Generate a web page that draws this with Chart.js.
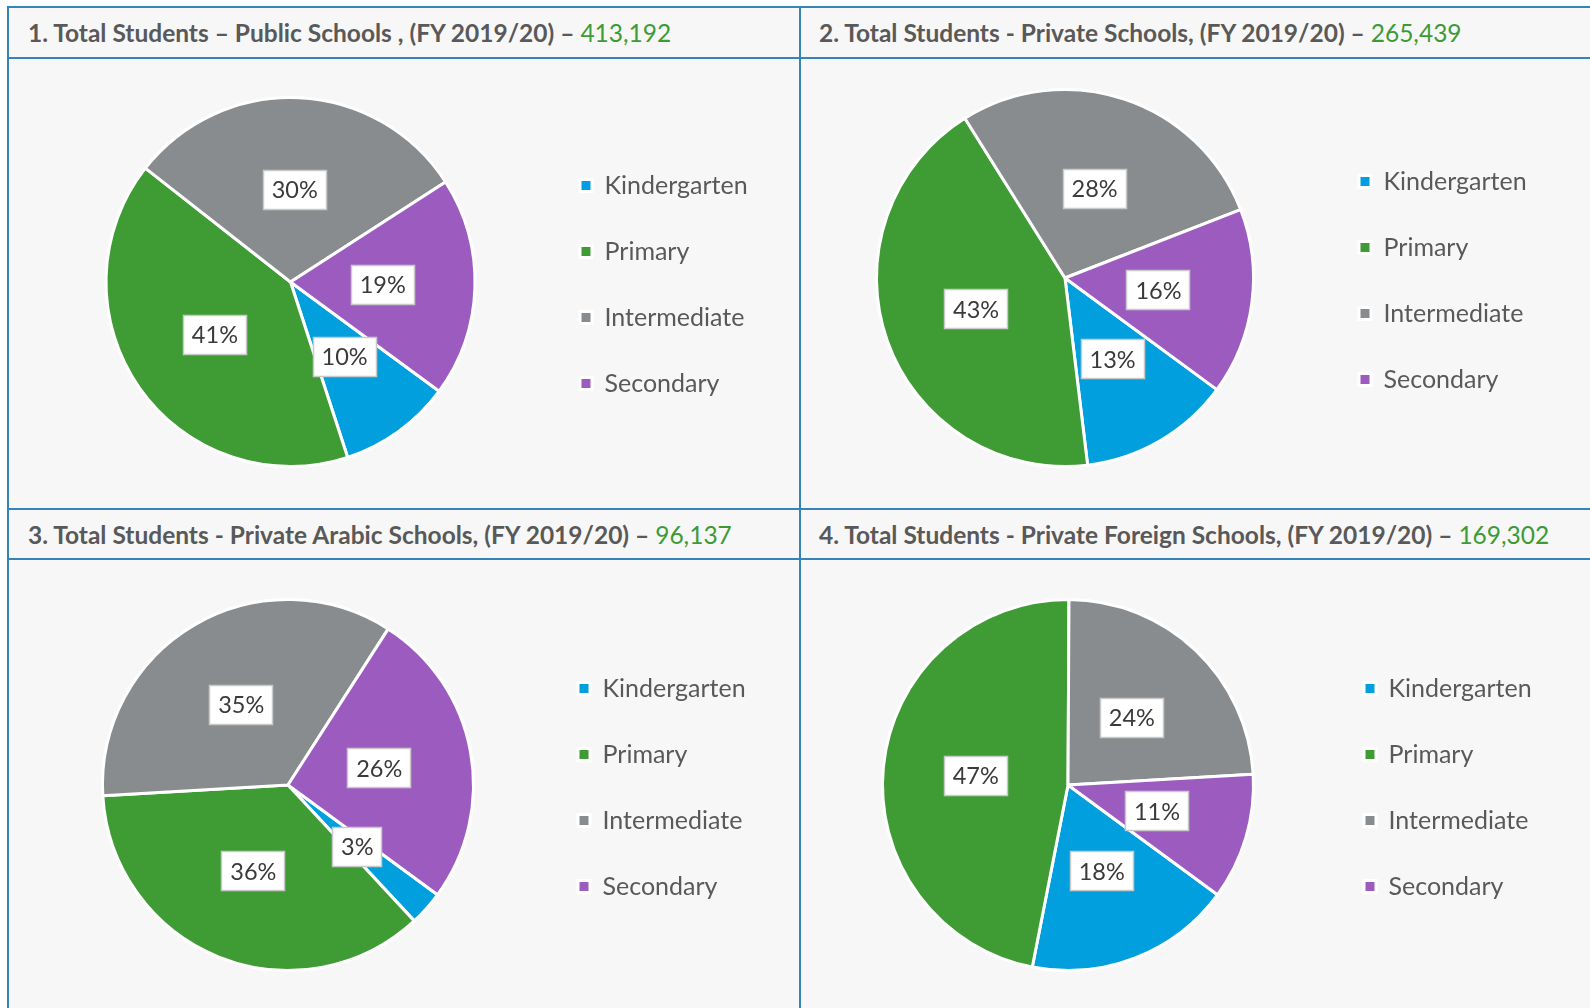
<!DOCTYPE html>
<html>
<head>
<meta charset="utf-8">
<script src="https://cdn.jsdelivr.net/npm/chart.js@4.4.1/dist/chart.umd.min.js"></script>
<style>
  html, body { margin: 0; padding: 0; background: #ffffff; }
  body { width: 1590px; height: 1008px; position: relative; overflow: hidden; font-family: Lato, "Open Sans", sans-serif; }
  .frame { position: absolute; left: 7px; top: 6px; width: 1583px; height: 1002px; background: #f7f7f7; }
  .hline { position: absolute; left: 7px; width: 1583px; height: 2px; background: #3583bb; }
  .vline { position: absolute; top: 6px; width: 2px; height: 1002px; background: #3583bb; }
  .head { position: absolute; height: 50px; line-height: 50px; font-weight: bold; font-size: 24.5px; color: #595959; white-space: nowrap; }
  .head .num { font-weight: normal; color: #3d9b35; }
  canvas { position: absolute; }
</style>
</head>
<body>
<div class="frame"></div>
<div class="hline" style="top:6px"></div>
<div class="hline" style="top:57px"></div>
<div class="hline" style="top:508px"></div>
<div class="hline" style="top:558px"></div>
<div class="vline" style="left:7px"></div>
<div class="vline" style="left:799px"></div>

<div class="head" id="head1" style="left:28px; top:8px"></div>
<div class="head" id="head2" style="left:819px; top:8px"></div>
<div class="head" id="head3" style="left:28px; top:510px"></div>
<div class="head" id="head4" style="left:819px; top:510px"></div>

<canvas id="pie1" width="790" height="449" style="left:9px; top:59px"></canvas>
<canvas id="pie2" width="789" height="449" style="left:801px; top:59px"></canvas>
<canvas id="pie3" width="790" height="448" style="left:9px; top:560px"></canvas>
<canvas id="pie4" width="789" height="448" style="left:801px; top:560px"></canvas>

<script>
// data
const levels = ["Kindergarten", "Primary", "Intermediate", "Secondary"];
const levelColors = ["#019fdd", "#3f9c35", "#898c8e", "#9c5cbf"];

const titles = [
  "1. Total Students \u2013 Public Schools , (FY 2019/20) \u2013 ",
  "2. Total Students - Private Schools, (FY 2019/20) \u2013 ",
  "3. Total Students - Private Arabic Schools, (FY 2019/20) \u2013 ",
  "4. Total Students - Private Foreign Schools, (FY 2019/20) \u2013 "
];
const totals = ["413,192", "265,439", "96,137", "169,302"];

// share of students by level, % (labels show them rounded)
const publicShare = [9.9, 40.6, 30.3, 19.2];
const privateShare = [13, 43, 28, 16];
const arabicShare = [3, 36, 35, 26];
const foreignShare = [18, 47, 24, 11];

// per panel: [padding left, padding top, legend left edge, padding bottom]
const pads = [
  [33, 37, 530, 40],
  [11, 29, 517, 40],
  [30, 38, 528, 36],
  [12, 38, 522, 36]
];

const legendFont = { family: 'Lato', size: 25 };
const legendPad = 41;
const legendBox = 12;

// width chart.js will give the legend box (padding + box + gap + text + 10)
function legendBoxWidth() {
  const c = document.createElement('canvas').getContext('2d');
  c.font = legendFont.size + 'px ' + legendFont.family;
  const tw = Math.max(...levels.map(l => c.measureText(l).width));
  return legendPad + legendBox + legendFont.size / 2 + tw + 10;
}

// white boxes with percentage in the middle of each slice
const boxLabels = {
  id: 'boxLabels',
  afterDatasetsDraw(chart) {
    const ctx = chart.ctx;
    const meta = chart.getDatasetMeta(0);
    const values = chart.data.datasets[0].data;
    ctx.save();
    ctx.font = '23.5px Lato';
    ctx.textAlign = 'center';
    ctx.textBaseline = 'middle';
    meta.data.forEach((arc, i) => {
      const p = arc.tooltipPosition();
      const text = Math.round(values[i]) + '%';
      const w = Math.round(ctx.measureText(text).width + 18);
      const h = 40;
      const x = Math.round(p.x - w / 2), y = Math.round(p.y - h / 2);
      ctx.fillStyle = '#ffffff';
      ctx.fillRect(x, y, w, h);
      ctx.strokeStyle = '#c9c9c9';
      ctx.lineWidth = 1.5;
      ctx.strokeRect(x + 0.5, y + 0.5, w - 1, h - 1);
      ctx.fillStyle = '#3a3a3a';
      ctx.fillText(text, p.x, p.y + 1);
    });
    ctx.restore();
  }
};

function makePie(id, shares, pad) {
  const canvas = document.getElementById(id);
  const lw = legendBoxWidth();
  const padRight = canvas.width - pad[2] - lw;
  return new Chart(canvas.getContext('2d'), {
    type: 'pie',
    data: {
      labels: levels,
      datasets: [{
        data: shares,
        backgroundColor: levelColors,
        borderColor: '#ffffff',
        borderWidth: 3
      }]
    },
    options: {
      responsive: false,
      animation: false,
      rotation: 126.3,
      layout: { padding: { left: pad[0], top: pad[1], right: padRight, bottom: pad[3] } },
      plugins: {
        tooltip: { enabled: false },
        legend: {
          position: 'right',
          align: 'center',
          title: { display: true, text: '', font: { size: 1 }, padding: { top: 0, bottom: 4 } },
          labels: {
            boxWidth: legendBox,
            boxHeight: legendBox,
            padding: legendPad,
            color: '#595959',
            font: legendFont
          }
        }
      }
    },
    plugins: [boxLabels]
  });
}

titles.forEach((t, i) => {
  const el = document.getElementById('head' + (i + 1));
  el.textContent = t;
  const span = document.createElement('span');
  span.className = 'num';
  span.textContent = totals[i];
  el.appendChild(span);
});

makePie('pie1', publicShare, pads[0]);
makePie('pie2', privateShare, pads[1]);
makePie('pie3', arabicShare, pads[2]);
makePie('pie4', foreignShare, pads[3]);
</script>
</body>
</html>
